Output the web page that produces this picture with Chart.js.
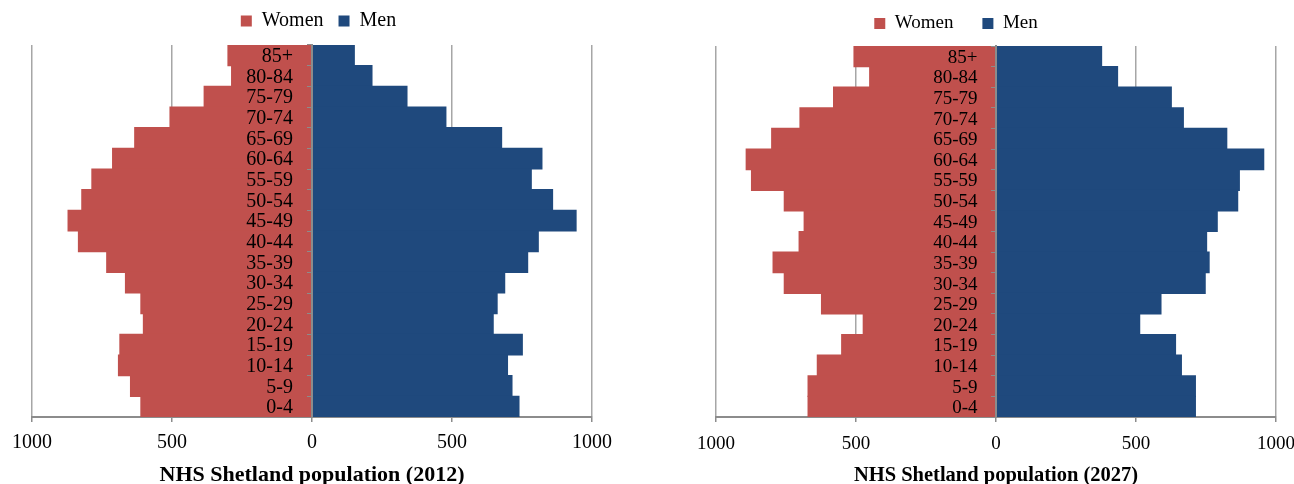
<!DOCTYPE html>
<html><head><meta charset="utf-8">
<script src="https://cdn.jsdelivr.net/npm/chart.js@4/dist/chart.umd.min.js"></script>
<style>
html,body{margin:0;padding:0;background:#fff;overflow:hidden;width:1294px;height:484px;}
#wrap{position:relative;width:1294px;height:484px;overflow:hidden;background:#fff;}
canvas{position:absolute;top:0;}
#c1{left:0;} #c2{left:684px;}
</style></head><body>
<div id="wrap"><canvas id="c1" width="647" height="484"></canvas><canvas id="c2" width="647" height="484"></canvas></div>
<script>
const ageGroups = ['85+','80-84','75-79','70-74','65-69','60-64','55-59','50-54','45-49','40-44','35-39','30-34','25-29','20-24','15-19','10-14','5-9','0-4'];
const women2012 = [300,287,385,507,633,712,786,822,871,834,733,666,611,602,686,691,648,611];
const men2012   = [151,214,339,478,677,821,783,859,943,808,770,688,661,647,751,698,714,739];
const women2027 = [507,451,580,700,801,892,873,756,685,703,796,756,623,474,551,638,671,671];
const men2027   = [377,434,626,669,824,956,869,863,790,752,761,747,589,513,641,662,712,712];
const axisTicks = [-1000,-500,0,500,1000];
const seriesNames = ['Women','Men'];
const seriesColors = ['#C0504D','#1F497D'];
const FONT = '"Liberation Serif", "Times New Roman", serif';

const legendShift = {
  id: 'legendShift',
  afterLayout(chart, args, opts) {
    const l = chart.legend;
    if (!l) return;
    l.left += opts.dx; l.right += opts.dx;
    l.top += opts.dy; l.bottom += opts.dy;
  }
};

function makeChart(id, women, men, title, cfg) {
  return new Chart(document.getElementById(id), {
    type: 'bar',
    data: {
      labels: ageGroups,
      datasets: [
        { label: seriesNames[0], data: women.map(v => -v), backgroundColor: seriesColors[0], borderWidth: 0, inflateAmount: 0.6, barPercentage: 1, categoryPercentage: 1 },
        { label: seriesNames[1], data: men, backgroundColor: seriesColors[1], borderWidth: 0, inflateAmount: 0.6, barPercentage: 1, categoryPercentage: 1 }
      ]
    },
    options: {
      indexAxis: 'y',
      responsive: false,
      animation: false,
      events: [],
      layout: { padding: { top: 0, left: 32, right: 55, bottom: 0 } },
      scales: {
        x: {
          type: 'linear', stacked: true, min: -1000, max: 1000,
          afterBuildTicks: s => { s.ticks = axisTicks.map(v => ({ value: v })); },
          grid: { color: '#a6a6a6', lineWidth: 1.5, tickLength: 5, tickColor: '#8c8c8c' },
          border: { color: '#8c8c8c', width: 2 },
          ticks: { callback: v => String(Math.abs(v)), color: '#000', font: { family: FONT, size: cfg.fs }, padding: cfg.tickPad, maxRotation: 0 }
        },
        y: {
          type: 'category', stacked: true, position: { x: 0 },
          grid: { drawOnChartArea: false, drawTicks: true, tickLength: 4, color: '#8c8c8c', offset: true, z: 1 },
          border: { display: true, color: '#8c8c8c', width: 2, z: 1 },
          ticks: { display: false }
        },
        yLabels: {
          type: 'category', axis: 'y', offset: true, position: { x: -cfg.labelGap },
          grid: { display: false, drawTicks: false },
          border: { display: false },
          ticks: { autoSkip: false, color: '#000', font: { family: FONT, size: cfg.fs }, padding: 0, labelOffset: 1.5, z: 2 }
        }
      },
      plugins: {
        legend: {
          display: true, position: 'top', maxHeight: 46,
          labels: { boxWidth: 11, boxHeight: 11, padding: cfg.legPad, color: '#000', font: { family: FONT, size: cfg.fs } }
        },
        title: {
          display: true, position: 'bottom', text: title, color: '#000',
          font: { family: FONT, size: cfg.titleFs, weight: 'bold', lineHeight: 0.8 },
          padding: { top: cfg.titlePad, bottom: 0 }
        },
        tooltip: { enabled: false },
        legendShift: { dx: cfg.dx, dy: cfg.dy }
      }
    },
    plugins: [legendShift]
  });
}

makeChart('c1', women2012, men2012, 'NHS Shetland population (2012)', { fs: 20, titleFs: 22, tickPad: 8.5, titlePad: 3.4, legPad: 15, dx: 6.5, dy: -4, labelGap: 68 });
makeChart('c2', women2027, men2027, 'NHS Shetland population (2027)', { fs: 19, titleFs: 20.5, tickPad: 10.6, titlePad: 1.6, legPad: 29, dx: -40, dy: -15, labelGap: 66 });
</script>
</body></html>
